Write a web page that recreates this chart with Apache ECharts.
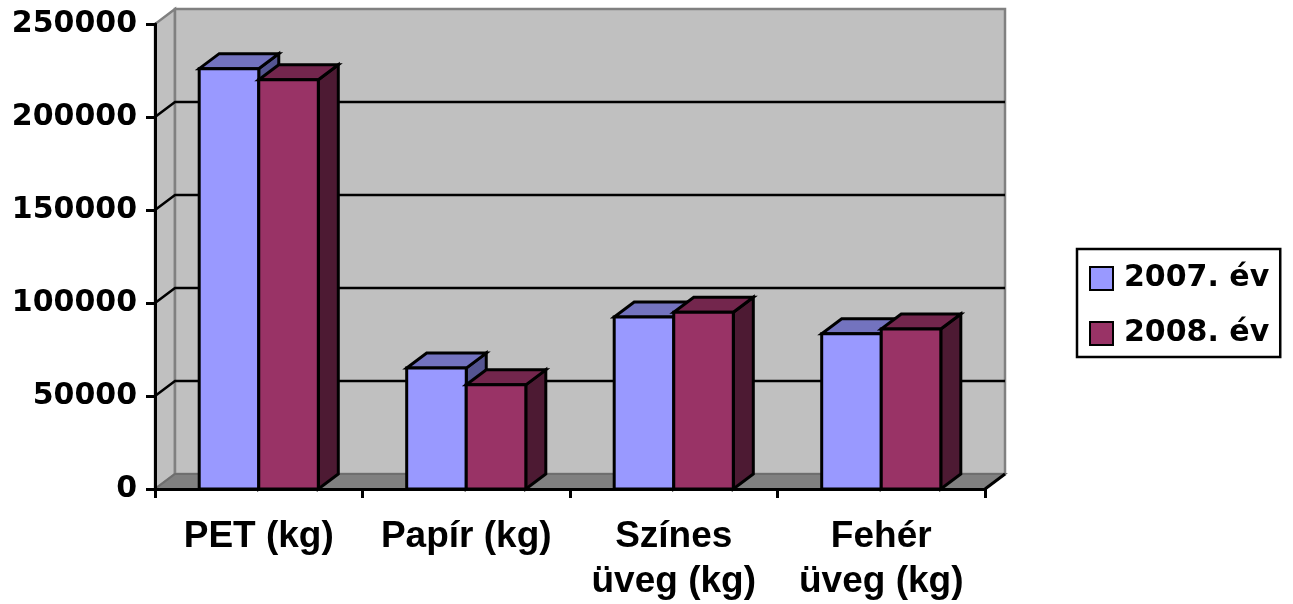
<!DOCTYPE html>
<html>
<head>
<meta charset="utf-8">
<script src="https://cdn.jsdelivr.net/npm/echarts@6/dist/echarts.min.js"></script>
<style>
html,body{margin:0;padding:0;background:#fff}
#chart{width:1293px;height:604px}
</style>
</head>
<body>
<div id="chart"></div>
<script>
let categories = ["PET (kg)", "Papír (kg)", "Színes\nüveg (kg)", "Fehér\nüveg (kg)"]
let seriesNames = ["2007. év", "2008. év"]
let values2007 = [226000, 65000, 92500, 83500]
let values2008 = [220000, 56000, 95000, 86000]
let yTicks = [0, 50000, 100000, 150000, 200000, 250000]

// depth of the 3d look, in pixels
const DX = 20
const DY = -15

function wallItem(params, api) {
	let cs = params.coordSys
	let x0 = cs.x, x1 = cs.x + cs.width
	let yT = cs.y, yB = cs.y + cs.height
	let kids = []
	// left side wall
	kids.push({
		type: "polygon",
		shape: { points: [[x0, yB], [x0, yT], [x0 + DX, yT + DY], [x0 + DX, yB + DY]] },
		style: { fill: "#c0c0c0", stroke: "#808080", lineWidth: 2.5 }
	})
	// back wall
	kids.push({
		type: "rect",
		shape: { x: x0 + DX, y: yT + DY, width: cs.width, height: cs.height },
		style: { fill: "#c0c0c0", stroke: "#808080", lineWidth: 2.5 }
	})
	// floor
	kids.push({
		type: "polygon",
		shape: { points: [[x0, yB], [x1, yB], [x1 + DX, yB + DY], [x0 + DX, yB + DY]] },
		style: { fill: "#808080", stroke: "#6e6e6e", lineWidth: 2 }
	})
	kids.push({
		type: "line",
		shape: { x1: x1, y1: yB, x2: x1 + DX, y2: yB + DY },
		style: { stroke: "#000", lineWidth: 3 }
	})
	// grid lines on the back wall
	yTicks.forEach(v => {
		if (v <= yTicks[0] || v >= yTicks[yTicks.length - 1]) return
		let y = api.coord([0, v])[1]
		kids.push({
			type: "polyline",
			shape: { points: [[x0, y], [x0 + DX, y + DY], [x1 + DX, y + DY]] },
			style: { stroke: "#000", lineWidth: 2.5, fill: null }
		})
	})
	return { type: "group", children: kids }
}

function makeBar(side, front, top, right) {
	return function (params, api) {
		let i = api.value(0)
		let base = api.coord([i, 0])
		let tp = api.coord([i, api.value(1)])
		let band = api.size([1, 0])[0]
		let w = band * 0.287
		let x0 = side === 0 ? base[0] - w : base[0]
		let yT = tp[1], yB = base[1]
		let line = { stroke: "#000", lineWidth: 3, lineJoin: "miter" }
		return {
			type: "group",
			children: [
				{
					type: "polygon",
					shape: { points: [[x0 + w, yT], [x0 + w + DX, yT + DY], [x0 + w + DX, yB + DY], [x0 + w, yB]] },
					style: Object.assign({ fill: right }, line)
				},
				{
					type: "polygon",
					shape: { points: [[x0, yT], [x0 + w, yT], [x0 + w + DX, yT + DY], [x0 + DX, yT + DY]] },
					style: Object.assign({ fill: top }, line)
				},
				{
					type: "rect",
					shape: { x: x0, y: yT, width: w, height: yB - yT },
					style: Object.assign({ fill: front }, line)
				}
			]
		}
	}
}

let chart = echarts.init(document.getElementById("chart"))
chart.setOption({
	animation: false,
	grid: { left: 155, top: 24, width: 830, bottom: 113, containLabel: false },
	legend: {
		orient: "vertical",
		left: 1077,
		top: 249,
		data: seriesNames,
		padding: [13, 11, 7, 12],
		itemGap: 22,
		itemWidth: 23,
		itemHeight: 23,
		borderColor: "#000",
		borderWidth: 2.5,
		icon: "rect",
		itemStyle: { borderColor: "#000", borderWidth: 2 },
		textStyle: {
			fontFamily: "DejaVu Sans",
			fontWeight: "bold",
			fontSize: 30,
			lineHeight: 33,
			color: "#000",
			padding: [0, 0, 0, 6]
		}
	},
	xAxis: {
		type: "category",
		data: categories,
		z: 10,
		axisLine: { show: true, lineStyle: { color: "#000", width: 3 } },
		axisTick: { show: true, length: 9, lineStyle: { color: "#000", width: 3 } },
		axisLabel: {
			interval: 0,
			margin: 25,
			color: "#000",
			fontFamily: "Liberation Sans",
			fontWeight: "bold",
			fontSize: 37,
			lineHeight: 45
		},
		splitLine: { show: false }
	},
	yAxis: {
		type: "value",
		min: 0,
		max: 250000,
		interval: 50000,
		z: 10,
		axisLine: { show: true, lineStyle: { color: "#000", width: 3 } },
		axisTick: { show: true, length: 9, lineStyle: { color: "#000", width: 3 } },
		axisLabel: {
			margin: 18,
			color: "#000",
			fontFamily: "DejaVu Sans",
			fontWeight: "bold",
			fontSize: 30,
			formatter: v => String(v)
		},
		splitLine: { show: false }
	},
	series: [
		{
			name: "walls",
			type: "custom",
			silent: true,
			z: 1,
			renderItem: wallItem,
			data: [[0, 0]]
		},
		{
			name: seriesNames[0],
			type: "custom",
			z: 2,
			itemStyle: { color: "#9999ff" },
			renderItem: makeBar(0, "#9999ff", "#7373bf", "#545490"),
			data: values2007.map((v, i) => [i, v])
		},
		{
			name: seriesNames[1],
			type: "custom",
			z: 2,
			itemStyle: { color: "#993366" },
			renderItem: makeBar(1, "#993366", "#73264d", "#4d1a33"),
			data: values2008.map((v, i) => [i, v])
		}
	]
})
</script>
</body>
</html>
